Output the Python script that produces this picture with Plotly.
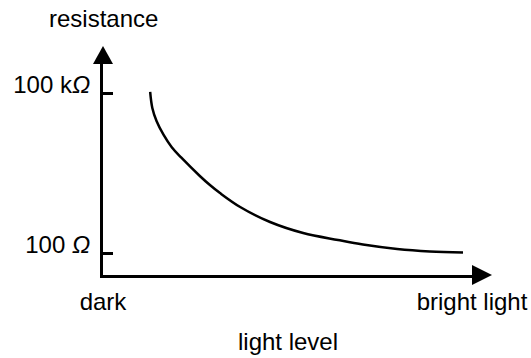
import plotly.graph_objects as go

# --- data ---
light_level = [1.31, 1.37, 1.49, 1.68, 1.91, 2.17, 2.69, 2.97, 3.25,
               3.81, 4.64, 5.56, 6.53, 7.22, 8.17, 9.08, 10.0]
resistance_ohm = [104500, 52300, 29400, 16500, 9600, 6180, 2780, 1880, 1330,
                  729, 381, 237, 175, 144, 119, 107, 102]

y_tick_vals = [100, 100000]
y_tick_text = ["100 <i>Ω</i>", "100 k<i>Ω</i>"]
x_tick_vals = [0, 10.25]
x_tick_text = ["dark", "bright light"]

FONT = "Liberation Sans, Arial, sans-serif"
FS = 24

fig = go.Figure()
fig.add_trace(go.Scatter(
    x=light_level, y=resistance_ohm, mode="lines",
    line=dict(color="black", width=2.5, shape="spline", smoothing=1.0),
    hoverinfo="skip", showlegend=False,
))

W, H = 531, 358
ml, mr, mt, mb = 103, 58, 63, 83

fig.update_layout(
    width=W, height=H,
    margin=dict(l=ml, r=mr, t=mt, b=mb, pad=0, autoexpand=False),
    paper_bgcolor="white", plot_bgcolor="white",
    font=dict(family=FONT, size=FS, color="black"),
    showlegend=False,
    xaxis=dict(
        range=[0, 370 / 36], showgrid=False, zeroline=False,
        showline=True, linecolor="black", linewidth=3,
        tickmode="array", tickvals=x_tick_vals, ticktext=x_tick_text,
        ticks="", ticklabelstandoff=3, automargin=False,
        title=dict(text="light level", standoff=20, font=dict(size=FS)),
        fixedrange=True,
    ),
    yaxis=dict(
        type="log", range=[1.5875, 5.5625], showgrid=False, zeroline=False,
        showline=True, linecolor="black", linewidth=3,
        tickmode="array", tickvals=y_tick_vals, ticktext=y_tick_text,
        ticks="inside", ticklen=10, tickwidth=3, tickcolor="black",
        ticklabelshift=-8, ticklabelstandoff=5, automargin=False,
        fixedrange=True,
    ),
)

# arrowheads at the ends of the axes
fig.add_shape(type="path", xref="paper", yref="paper",
              xsizemode="pixel", ysizemode="pixel", xanchor=1, yanchor=0,
              path="M-1,10 L19,0 L-1,-10 Z",
              fillcolor="black", line=dict(width=0))
fig.add_shape(type="path", xref="paper", yref="paper",
              xsizemode="pixel", ysizemode="pixel", xanchor=0, yanchor=1,
              path="M-10,-1 L10,-1 L0,17 Z",
              fillcolor="black", line=dict(width=0))

fig.add_annotation(text="resistance", xref="paper", yref="paper",
                   x=0, y=1, xanchor="center", yanchor="middle",
                   xshift=0, yshift=63 - 18, showarrow=False,
                   font=dict(size=FS))

fig.write_html("out.html", config={"displayModeBar": False},
               post_script="document.body.style.margin='0';")
